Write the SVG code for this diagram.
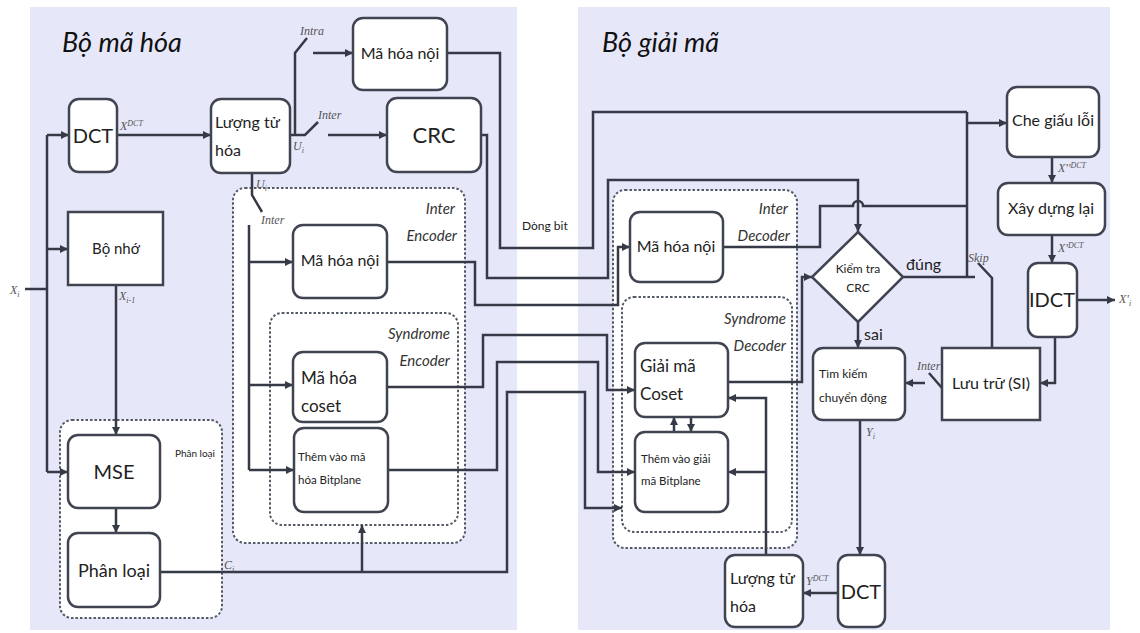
<svg xmlns="http://www.w3.org/2000/svg" width="1140" height="633" viewBox="0 0 1140 633">
<defs>
<marker id="ar" markerUnits="userSpaceOnUse" markerWidth="9" markerHeight="9" refX="8" refY="4" orient="auto">
<path d="M0,0 L8,4 L0,8 z" fill="#353a46"/>
</marker>
<style>
.panel{fill:#e6e8fa}
.box{fill:#fff;stroke:#3f4450;stroke-width:2.5}
.grp{fill:#fff;stroke:#555b66;stroke-width:2;stroke-dasharray:2.5,2}
.grp2{fill:none;stroke:#555b66;stroke-width:2;stroke-dasharray:2.5,2}
.ln{fill:none;stroke:#353a46;stroke-width:2.5}
.lna{fill:none;stroke:#353a46;stroke-width:2.5;marker-end:url(#ar)}
.t{font-family:Lato,"Open Sans",sans-serif;fill:#222;}
.c{text-anchor:middle}
.title{font-family:Lato,"Open Sans",sans-serif;font-style:italic;font-size:27px;fill:#111}
.gl{font-family:Lato,"Open Sans",sans-serif;font-style:italic;font-size:15px;fill:#333;text-anchor:end}
.v{font-family:"Liberation Serif",serif;font-style:italic;font-size:12px;fill:#555}
.vs{font-family:"Liberation Serif",serif;font-style:italic;font-size:8px;fill:#555}
</style>
</defs>
<rect x="0" y="0" width="1140" height="633" fill="#fff"/>
<rect class="panel" x="30" y="7" width="487" height="623"/>
<rect class="panel" x="578" y="7" width="532" height="623"/>
<text class="title" x="62" y="52">Bộ mã hóa</text>
<text class="title" x="602" y="52">Bộ giải mã</text>

<!-- groups -->
<g id="grp-phanloai"><rect class="grp" x="60" y="420" width="162" height="198" rx="12"/><text class="t" x="215" y="457" font-size="10" text-anchor="end">Phân loại</text></g>
<g id="grp-inter-enc"><rect class="grp" x="233" y="188" width="232" height="355" rx="12"/><text class="gl" x="455" y="214">Inter</text><text class="gl" x="457" y="241">Encoder</text></g>
<g id="grp-syn-enc"><rect class="grp2" x="270" y="313" width="188" height="212" rx="12"/><text class="gl" x="450" y="339">Syndrome</text><text class="gl" x="450" y="366">Encoder</text></g>
<g id="grp-inter-dec"><rect class="grp" x="613" y="190" width="184" height="358" rx="12"/><text class="gl" x="788" y="214">Inter</text><text class="gl" x="790" y="241">Decoder</text></g>
<g id="grp-syn-dec"><rect class="grp2" x="622" y="297" width="170" height="235" rx="12"/><text class="gl" x="786" y="324">Syndrome</text><text class="gl" x="786" y="351">Decoder</text></g>

<!-- connectors -->
<g id="connectors">
<path class="ln" d="M25,289 L47,289 M47,135 L47,472"/>
<path class="lna" d="M47,135 L69,135"/>
<path class="lna" d="M47,249 L68,249"/>
<path class="lna" d="M47,472 L68,472"/>
<path class="lna" d="M117,135 L211,135"/>
<path class="lna" d="M116,285 L116,435"/>
<path class="lna" d="M116,508 L116,533"/>
<path class="lna" d="M160,572 L507,572 L507,392 L585,392 L585,508 L622,508"/>
<path class="lna" d="M362,572 L362,525"/>
<path class="ln" d="M290,135 L305,135 L318,122 M295,135 L295,53 L307,38"/>
<path class="lna" d="M328,135 L387,135"/>
<path class="lna" d="M313,53 L353,53"/>
<path class="ln" d="M252,173 L252,195 L262,212 M249,225 L249,470"/>
<path class="lna" d="M249,262 L293,262"/>
<path class="lna" d="M249,385 L293,385"/>
<path class="lna" d="M249,470 L294,470"/>
<path class="ln" d="M447,53 L500,53 L500,248 L593,248 L593,112 L967,112 M967,112 L967,277"/>
<path class="lna" d="M967,123 L1007,123"/>
<path class="lna" d="M481,135 L487,135 L487,278 L608,278 L608,180 L858,180 L858,232"/>
<path class="lna" d="M387,262 L475,262 L475,305 L618,305 L618,247 L630,247"/>
<path class="lna" d="M387,387 L483,387 L483,335 L607,335 L607,390 L635,390"/>
<path class="lna" d="M388,470 L497,470 L497,362 L598,362 L598,472 L635,472"/>
<path class="ln" d="M723,247 L820,247 L820,206 L853,206 A5,5 0 0 1 863,206 L967,206"/>
<path class="ln" d="M903,277 L975,277"/>
<path class="lna" d="M728,382 L802,382 L802,277 L812,277"/>
<path class="lna" d="M858,322 L858,348"/>
<path class="lna" d="M860,420 L860,555"/>
<path class="lna" d="M838,593 L803,593"/>
<path class="lna" d="M766,555 L766,398 L728,398"/>
<path class="lna" d="M766,472 L728,472"/>
<path class="lna" d="M674,432 L674,417"/>
<path class="lna" d="M691,417 L691,432"/>
<path class="lna" d="M925,383 L905,383"/>
<path class="ln" d="M942,388 L929,373"/>
<path class="ln" d="M992,348 L992,278 L978,263"/>
<path class="lna" d="M1052,157 L1052,183"/>
<path class="lna" d="M1052,235 L1052,263"/>
<path class="lna" d="M1077,300 L1115,300"/>
<path class="lna" d="M1055,337 L1055,383 L1040,383"/>
</g>

<!-- nodes encoder -->
<g id="dct-enc"><rect class="box" x="69" y="99" width="48" height="73" rx="10"/><text class="t c" x="93" y="143" font-size="20">DCT</text></g>
<g id="luongtu-enc"><rect class="box" x="211" y="99" width="79" height="74" rx="10"/><text class="t" x="215" y="128" font-size="16">Lượng tử</text><text class="t" x="215" y="156" font-size="16">hóa</text></g>
<g id="mahoanoi-intra"><rect class="box" x="353" y="18" width="94" height="72" rx="10"/><text class="t c" x="400" y="59" font-size="16">Mã hóa nội</text></g>
<g id="crc"><rect class="box" x="387" y="98" width="94" height="74" rx="10"/><text class="t c" x="434" y="143" font-size="22">CRC</text></g>
<g id="bonho"><rect class="box" x="68" y="212" width="95" height="73"/><text class="t c" x="116" y="254" font-size="15">Bộ nhớ</text></g>
<g id="mse"><rect class="box" x="68" y="435" width="92" height="73" rx="10"/><text class="t c" x="114" y="479" font-size="20">MSE</text></g>
<g id="phanloai"><rect class="box" x="68" y="533" width="92" height="74" rx="10"/><text class="t c" x="114" y="577" font-size="18">Phân loại</text></g>
<g id="mahoanoi-inter"><rect class="box" x="293" y="225" width="94" height="73" rx="10"/><text class="t c" x="340" y="266" font-size="16">Mã hóa nội</text></g>
<g id="mahoacoset"><rect class="box" x="293" y="352" width="94" height="70" rx="10"/><text class="t" x="301" y="384" font-size="17">Mã hóa</text><text class="t" x="301" y="412" font-size="17">coset</text></g>
<g id="themvao-enc"><rect class="box" x="294" y="428" width="94" height="84" rx="10"/><text class="t" x="298" y="461" font-size="11.5">Thêm vào mã</text><text class="t" x="298" y="484" font-size="11.5">hóa Bitplane</text></g>

<!-- nodes decoder -->
<g id="mahoanoi-dec"><rect class="box" x="630" y="212" width="93" height="70" rx="10"/><text class="t c" x="676" y="252" font-size="16">Mã hóa nội</text></g>
<g id="giaima-coset"><rect class="box" x="635" y="343" width="93" height="74" rx="10"/><text class="t" x="640" y="372" font-size="17">Giải mã</text><text class="t" x="640" y="400" font-size="17">Coset</text></g>
<g id="themvao-dec"><rect class="box" x="635" y="432" width="93" height="80" rx="10"/><text class="t" x="641" y="463" font-size="11.5">Thêm vào giải</text><text class="t" x="641" y="485" font-size="11.5">mã Bitplane</text></g>
<g id="luongtu-dec"><rect class="box" x="725" y="555" width="78" height="72" rx="10"/><text class="t" x="730" y="584" font-size="16">Lượng tử</text><text class="t" x="730" y="612" font-size="16">hóa</text></g>
<g id="dct-dec"><rect class="box" x="838" y="555" width="47" height="72" rx="10"/><text class="t c" x="861" y="599" font-size="20">DCT</text></g>
<g id="kiemtra"><path class="box" d="M858,232 L903,277 L858,322 L812,277 z"/><text class="t c" x="858" y="273" font-size="12">Kiểm tra</text><text class="t c" x="858" y="292" font-size="12">CRC</text></g>
<g id="timkiem"><rect class="box" x="813" y="348" width="92" height="72" rx="10"/><text class="t" x="819" y="378" font-size="12">Tìm kiếm</text><text class="t" x="819" y="402" font-size="12">chuyển động</text></g>
<g id="luutru"><rect class="box" x="942" y="348" width="98" height="72"/><text class="t c" x="991" y="389" font-size="16">Lưu trữ  (SI)</text></g>
<g id="idct"><rect class="box" x="1028" y="263" width="49" height="74" rx="10"/><text class="t c" x="1052" y="307" font-size="20">IDCT</text></g>
<g id="xaydung"><rect class="box" x="998" y="183" width="107" height="52" rx="10"/><text class="t c" x="1051" y="214" font-size="16">Xây dựng lại</text></g>
<g id="chegiau"><rect class="box" x="1007" y="87" width="92" height="70" rx="10"/><text class="t c" x="1053" y="126" font-size="16">Che giấu lỗi</text></g>

<!-- labels -->
<g id="labels">
<text class="v" x="10" y="294" font-size="14">X<tspan class="vs" dy="3">i</tspan></text>
<text class="v" x="120" y="130">X<tspan class="vs" dy="-4">DCT</tspan></text>
<text class="v" x="119" y="300">X<tspan class="vs" dy="3">i-1</tspan></text>
<text class="v" x="293" y="150">U<tspan class="vs" dy="3">i</tspan></text>
<text class="v" x="256" y="188">U<tspan class="vs" dy="3">i</tspan></text>
<text class="v" x="300" y="35" font-size="10">Intra</text>
<text class="v" x="318" y="119" font-size="10">Inter</text>
<text class="v" x="261" y="224" font-size="9">Inter</text>
<text class="v" x="224" y="569">C<tspan class="vs" dy="3">i</tspan></text>
<text class="t" x="522" y="230" font-size="12">Dòng bit</text>
<text class="t" x="906" y="270" font-size="16">đúng</text>
<text class="t" x="864" y="340" font-size="16">sai</text>
<text class="v" x="968" y="262" font-size="9">Skip</text>
<text class="v" x="917" y="370" font-size="9">Inter</text>
<text class="v" x="866" y="436">Y<tspan class="vs" dy="3">i</tspan></text>
<text class="v" x="806" y="585">Y<tspan class="vs" dy="-4">DCT</tspan></text>
<text class="v" x="1058" y="172">X''<tspan class="vs" dy="-4">DCT</tspan></text>
<text class="v" x="1058" y="252">X'<tspan class="vs" dy="-4">DCT</tspan></text>
<text class="v" x="1119" y="303" font-size="13">X'<tspan class="vs" dy="3">i</tspan></text>
</g>
</svg>
